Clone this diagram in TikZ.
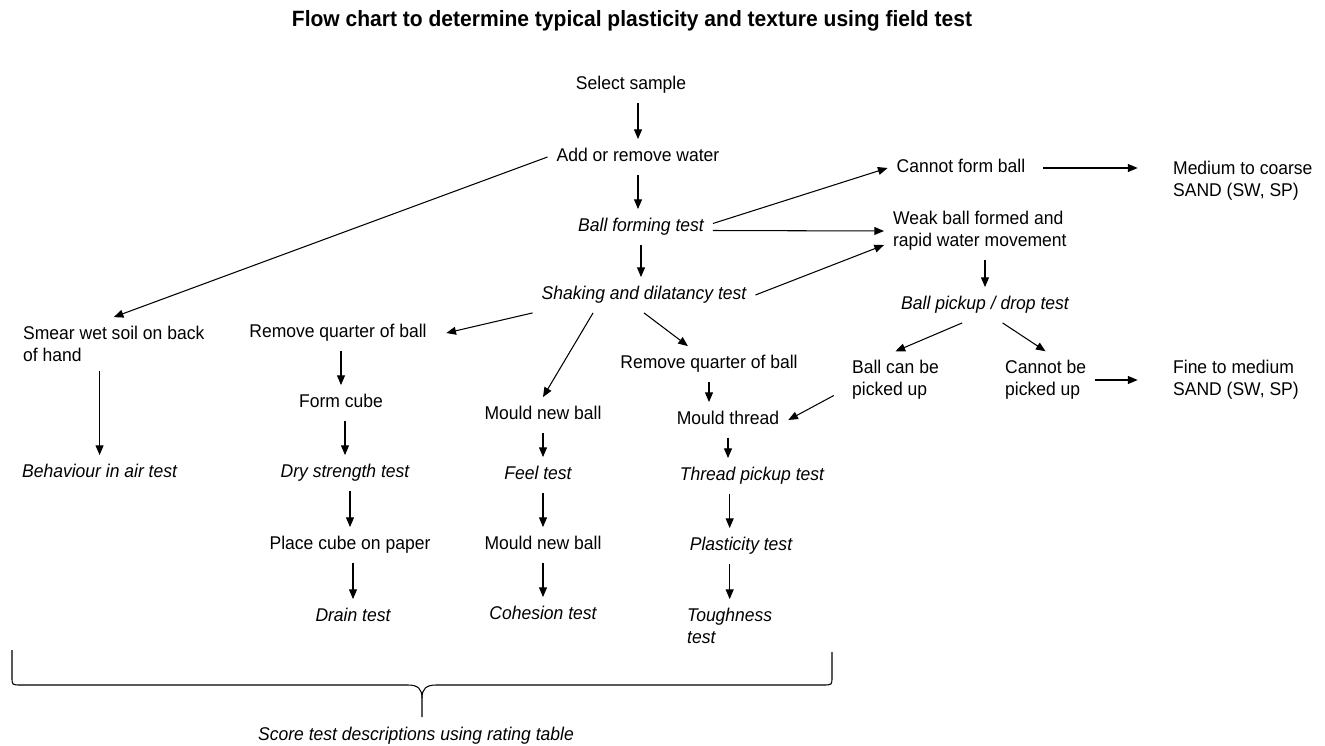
\documentclass[tikz,border=0pt]{standalone}
\usepackage{fontspec}
\setmainfont{Liberation Sans}[FakeStretch=0.95]
\usepackage{tikz}
\usetikzlibrary{positioning,arrows.meta}

\tikzset{
  lbl/.style={inner sep=5pt, font=\fontsize{10.5}{12.5}\selectfont, text height=7.8pt, text depth=2.2pt},
  lbltwo/.style={inner sep=5pt, font=\fontsize{10.5}{12.5}\selectfont, align=left, anchor=west},
  tst/.style={lbl, font=\fontsize{10.5}{12.5}\selectfont\itshape},
  tsttwo/.style={lbltwo, font=\fontsize{10.5}{12.5}\selectfont\itshape},
  arr/.style={-{Triangle[length=5.5pt,width=4.5pt]}, line width=0.6pt}
}

\begin{document}
\begin{tikzpicture}[x=0.02cm, y=-0.02cm]
  \useasboundingbox (0,0) rectangle (1325,746);
  \node[font=\fontsize{12.6}{14}\selectfont\bfseries] (ttl) at (632,21) {Flow chart to determine typical plasticity and texture using field test};

  % main column
  \node[lbl] (sel) at (631,85) {Select sample};
  \node[lbl] (add) at (638,157) {Add or remove water};
  \node[tst] (bft) at (641,227) {Ball forming test};
  \node[tst] (shk) at (644,295) {Shaking and dilatancy test};

  % right branch
  \node[lbl] (cfb) at (961,168) {Cannot form ball};
  \node[lbltwo] (med) at (1164,181) {Medium to coarse\\SAND (SW, SP)};
  \node[lbltwo] (weak) at (884,231) {Weak ball formed and\\rapid water movement};
  \node[tst] (bpd) at (985,305) {Ball pickup / drop test};
  \node[lbltwo] (bcb) at (843,380) {Ball can be\\picked up};
  \node[lbltwo] (cbp) at (996,380) {Cannot be\\picked up};
  \node[lbltwo] (fine) at (1164,380) {Fine to medium\\SAND (SW, SP)};

  % left branches
  \node[lbltwo] (smear) at (14,344) {Smear wet soil on back\\of hand};
  \node[tst, anchor=west] (beh) at (13,473) {Behaviour in air test};
  \node[lbl] (rqa) at (338,333) {Remove quarter of ball};
  \node[lbl] (fcube) at (341,403) {Form cube};
  \node[tst] (dry) at (345,473) {Dry strength test};
  \node[lbl] (pcube) at (350,545) {Place cube on paper};
  \node[tst] (drain) at (353,617) {Drain test};

  \node[lbl] (mnba) at (543,415) {Mould new ball};
  \node[tst] (feel) at (538,475) {Feel test};
  \node[lbl] (mnbb) at (543,545) {Mould new ball};
  \node[tst] (coh) at (543,615) {Cohesion test};

  \node[lbl] (rqb) at (709,364) {Remove quarter of ball};
  \node[lbl] (mth) at (728,420) {Mould thread};
  \node[tst] (tpu) at (752,476) {Thread pickup test};
  \node[tst] (pls) at (741,546) {Plasticity test};
  \node[tsttwo] (tgh) at (678,626) {Toughness\\test};

  \node[tst] (scr) at (416,736) {Score test descriptions using rating table};

  % connectors
  \draw[arr] (add.north |- sel.south) -- (add.north);
  \draw[arr] (add.south) -- (add.south |- bft.north);
  \draw[arr] (bft.south) -- (bft.south |- shk.north);
  \draw[arr] ([yshift=2pt]bft.east) -- (cfb.west);
  \draw[arr] ([yshift=-2pt]bft.east) -- (weak.west);
  \draw[arr] (shk.east) -- ([yshift=-8pt]weak.west);
  \draw[arr, shorten <=5pt, shorten >=15pt] (cfb.east) -- (cfb.east -| med.west);
  \draw[arr] (bpd.north |- weak.south) -- (bpd.north);
  \draw[arr] ([xshift=-13pt]bpd.south) -- (bcb.north);
  \draw[arr] ([xshift=10pt]bpd.south) -- (cbp.north);
  \draw[arr, shorten >=15pt] (cbp.east) -- (fine.west);
  \draw[arr, shorten <=6pt] ([yshift=-6pt]bcb.west) -- (mth.east);

  \draw[arr] (add.west) -- (smear.north);
  \draw[arr] (beh.north |- smear.south) -- (beh.north);
  \draw[arr] (shk.south west) -- ([xshift=6pt]rqa.east);
  \draw[arr] (fcube.north |- rqa.south) -- (fcube.north);
  \draw[arr] (dry.north |- fcube.south) -- (dry.north);
  \draw[arr] (pcube.north |- dry.south) -- (pcube.north);
  \draw[arr] (drain.north |- pcube.south) -- (drain.north);

  \draw[arr] ([xshift=-29pt]shk.south) -- (mnba.north);
  \draw[arr] (mnba.south) -- (mnba.south |- feel.north);
  \draw[arr] (mnba.south |- feel.south) -- (mnba.south |- mnbb.north);
  \draw[arr] (mnbb.south) -- (mnbb.south |- coh.north);

  \draw[arr] (shk.south) -- ([xshift=-12pt]rqb.north);
  \draw[arr] (rqb.south) -- (rqb.south |- mth.north);
  \draw[arr] (mth.south) -- (mth.south |- tpu.north);
  \draw[arr] (tgh.north |- tpu.south) -- (tgh.north |- pls.north);
  \draw[arr] (tgh.north |- pls.south) -- (tgh.north);

  % brace over the tests
  \draw[line width=0.6pt] (12,650) -- (12,677) .. controls (12,685) .. (21,685) -- (408,685)
    .. controls (418,685) and (422,689) .. (422,698) -- (422,717);
  \draw[line width=0.6pt] (832,652) -- (832,677) .. controls (832,685) .. (823,685) -- (436,685)
    .. controls (426,685) and (422,689) .. (422,698);
\end{tikzpicture}
\end{document}
